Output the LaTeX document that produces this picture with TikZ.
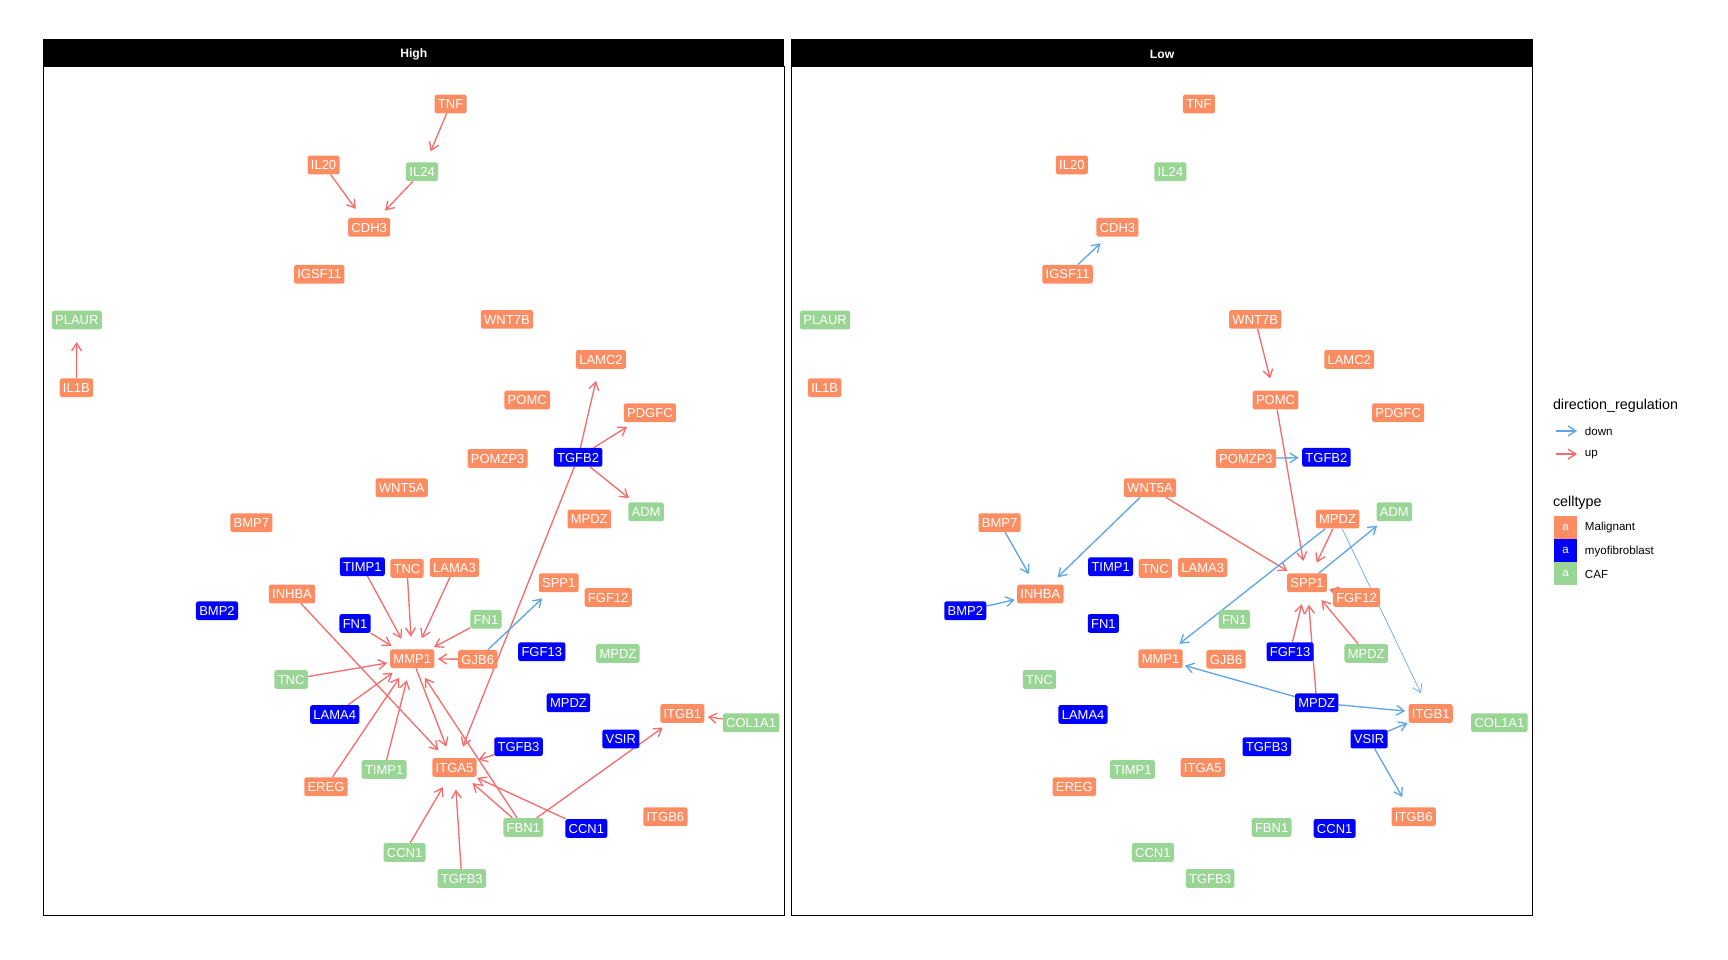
\documentclass[tikz,border=0pt]{standalone}
\usepackage{fontspec}
\setmainfont{Liberation Sans}
\usetikzlibrary{arrows.meta}
\pgfdeclarelayer{bg}
\pgfdeclarelayer{edges}
\pgfsetlayers{bg,edges,main}

\definecolor{malig}{HTML}{FC8D62}
\definecolor{myofib}{HTML}{0000FF}
\definecolor{caf}{HTML}{99D594}
\definecolor{upred}{HTML}{F46D6D}
\definecolor{downblue}{HTML}{5EA6E6}

\tikzset{
  gene/.style={rounded corners=2pt, text=white, inner xsep=3pt, inner ysep=0pt,
    minimum height=17pt, text height=8.5pt, text depth=0pt,
    font=\fontsize{11.8}{13}\selectfont},
  mal/.style={gene, fill=malig},
  myo/.style={gene, fill=myofib},
  cafn/.style={gene, fill=caf},
  link/.style={line width=1.2pt, -{Straight Barb[length=7pt,width=9pt]}},
  up/.style={link, draw=upred},
  down/.style={link, draw=downblue},
  strip/.style={text=white, font=\fontsize{11}{13}\selectfont\bfseries, inner sep=0pt},
  legtitle/.style={anchor=west, inner sep=0pt, font=\fontsize{13}{15}\selectfont},
  legtext/.style={anchor=west, inner sep=0pt, font=\fontsize{10.5}{12}\selectfont},
  keybox/.style={minimum size=21pt, inner sep=0pt, text=white, font=\fontsize{10.5}{12}\selectfont},
}

% edge ending on an elliptic cap around the target label
\newcommand\lnk[3]{%
  \pgfpointanchor{#3}{east}\pgfgetlastxy\lkEx\lkEy
  \pgfpointanchor{#3}{center}\pgfgetlastxy\lkCx\lkCy
  \pgfpointanchor{#2}{center}\pgfgetlastxy\lkSx\lkSy
  \pgfmathsetmacro\lkA{max(20,\lkEx-\lkCx+3)}%
  \pgfmathsetmacro\lkDx{\lkCx-\lkSx}%
  \pgfmathsetmacro\lkDy{\lkCy-\lkSy}%
  \pgfmathsetmacro\lkD{veclen(\lkDx,\lkDy)}%
  \pgfmathsetmacro\lkR{20*\lkA/sqrt((20*\lkDx/\lkD)^2+(\lkA*\lkDy/\lkD)^2)}%
  \draw[#1, shorten >=\lkR pt] (#2) -- (#3.center);}

% gene labels of one panel
\newcommand\genelayout[1]{%
  \node[mal]  (#1TNF)    at (408.9,94.4)  {TNF};
  \node[mal]  (#1IL20)   at (293.6,149.7) {IL20};
  \node[cafn] (#1IL24)   at (383,155.8)   {IL24};
  \node[mal]  (#1CDH3)   at (335,206.3)   {CDH3};
  \node[mal]  (#1IGSF11) at (289.7,248.9) {IGSF11};
  \node[cafn] (#1PLAUR)  at (69.7,290.4)  {PLAUR};
  \node[mal]  (#1WNT7B)  at (460,289.8)   {WNT7B};
  \node[mal]  (#1IL1B)   at (69.3,351.8)  {IL1B};
  \node[mal]  (#1LAMC2)  at (545.3,326.1) {LAMC2};
  \node[mal]  (#1POMC)   at (478.4,363)   {POMC};
  \node[mal]  (#1PDGFC)  at (589.7,374.5) {PDGFC};
  \node[mal]  (#1POMZP3) at (451.6,416)   {POMZP3};
  \node[myo]  (#1TGFB2)  at (524.6,415)   {TGFB2};
  \node[mal]  (#1WNT5A)  at (364.5,442.6) {WNT5A};
  \node[mal]  (#1MPDZm)  at (534.7,471)   {MPDZ};
  \node[cafn] (#1ADM)    at (586.2,464.4) {ADM};
  \node[mal]  (#1BMP7)   at (228.1,474.3) {BMP7};
  \node[myo]  (#1TIMP1y) at (328.8,514.2) {TIMP1};
  \node[mal]  (#1TNCm)   at (369.3,515.8) {TNC};
  \node[mal]  (#1LAMA3)  at (412.4,514.9) {LAMA3};
  \node[mal]  (#1SPP1)   at (507,528.8)   {SPP1};
  \node[mal]  (#1INHBA)  at (265,539)     {INHBA};
  \node[mal]  (#1FGF12)  at (551.9,542.1) {FGF12};
  \node[myo]  (#1BMP2)   at (196.9,554.2) {BMP2};
  \node[myo]  (#1FN1y)   at (322.2,565.7) {FN1};
  \node[cafn] (#1FN1c)   at (441,562)     {FN1};
  \node[mal]  (#1MMP1)   at (374.1,597.7) {MMP1};
  \node[mal]  (#1GJB6)   at (433.5,598.3) {GJB6};
  \node[myo]  (#1FGF13)  at (491.6,591.4) {FGF13};
  \node[cafn] (#1MPDZc)  at (560.7,592.9) {MPDZ};
  \node[cafn] (#1TNCc)   at (264.2,616.5) {TNC};
  \node[myo]  (#1MPDZy)  at (515.8,637.7) {MPDZ};
  \node[myo]  (#1LAMA4)  at (303.8,648.3) {LAMA4};
  \node[mal]  (#1ITGB1)  at (619.2,647.4) {ITGB1};
  \node[cafn] (#1COL1A1) at (681.6,655.8) {COL1A1};
  \node[myo]  (#1VSIR)   at (563.3,670.6) {VSIR};
  \node[myo]  (#1TGFB3y) at (470.5,677.6) {TGFB3};
  \node[cafn] (#1TIMP1c) at (348.6,698.2) {TIMP1};
  \node[mal]  (#1ITGA5)  at (412.4,696.4) {ITGA5};
  \node[mal]  (#1EREG)   at (295.8,713.9) {EREG};
  \node[mal]  (#1ITGB6)  at (603.8,741.1) {ITGB6};
  \node[cafn] (#1FBN1)   at (474.9,750.8) {FBN1};
  \node[myo]  (#1CCN1y)  at (532.1,751.7) {CCN1};
  \node[cafn] (#1CCN1c)  at (367.1,773.5) {CCN1};
  \node[cafn] (#1TGFB3c) at (419,797.1)   {TGFB3};
}

\begin{document}
\begin{tikzpicture}[x=1pt, y=-1pt]
\useasboundingbox (0,0) rectangle (1568,871);
\begin{pgfonlayer}{bg}
  \fill[white] (0,0) rectangle (1568,871);
\end{pgfonlayer}

% panels with their strips
\draw[line width=0.8pt] (39.4,59.9) rectangle (711.5,831);
\fill[black] (39.4,35.4) rectangle (711.5,59.9);
\node[strip] (stripHigh) at (375.5,49.2) {High};
\draw[line width=0.8pt] (718.2,59.9) rectangle (1390.8,831);
\fill[black] (718.2,35.4) rectangle (1390.8,59.9);
\node[strip] (stripLow) at (1054.5,49.2) {Low};

\genelayout{h}
\begin{scope}[xshift=679pt]
  \genelayout{l}
\end{scope}

\begin{pgfonlayer}{edges}
  % High
  \lnk{up}{hTNF}{hIL24}
  \lnk{up}{hIL20}{hCDH3}
  \lnk{up}{hIL24}{hCDH3}
  \lnk{up}{hIL1B}{hPLAUR}
  \lnk{up}{hTGFB2}{hLAMC2}
  \lnk{up}{hTGFB2}{hPDGFC}
  \lnk{up}{hTGFB2}{hADM}
  \lnk{up}{hTIMP1y}{hMMP1}
  \lnk{up}{hTNCm}{hMMP1}
  \lnk{up}{hLAMA3}{hMMP1}
  \lnk{up}{hFN1y}{hMMP1}
  \lnk{up}{hFN1c}{hMMP1}
  \lnk{up}{hGJB6}{hMMP1}
  \lnk{up}{hTNCc}{hMMP1}
  \lnk{up}{hLAMA4}{hMMP1}
  \lnk{up}{hEREG}{hMMP1}
  \lnk{up}{hTIMP1c}{hMMP1}
  \lnk{up}{hFBN1}{hMMP1}
  \lnk{up}{hINHBA}{hITGA5}
  \lnk{up}{hMMP1}{hITGA5}
  \lnk{up}{hTGFB2}{hITGA5}
  \lnk{up}{hTGFB3y}{hITGA5}
  \lnk{up}{hFBN1}{hITGA5}
  \lnk{up}{hCCN1y}{hITGA5}
  \lnk{up}{hCCN1c}{hITGA5}
  \lnk{up}{hTGFB3c}{hITGA5}
  \lnk{up}{hFBN1}{hITGB1}
  \lnk{up}{hCOL1A1}{hITGB1}
  \lnk{down}{hGJB6}{hSPP1}
  % Low
  \lnk{down}{lIGSF11}{lCDH3}
  \lnk{up}{lWNT7B}{lPOMC}
  \lnk{up}{lPOMC}{lSPP1}
  \lnk{down}{lPOMZP3}{lTGFB2}
  \lnk{down}{lWNT5A}{lINHBA}
  \lnk{up}{lWNT5A}{lSPP1}
  \lnk{down}{lBMP7}{lINHBA}
  \lnk{down}{lBMP2}{lINHBA}
  \lnk{up}{lMPDZm}{lSPP1}
  \lnk{down}{lMPDZm}{lMMP1}
  \lnk{down, line width=0.6pt}{lMPDZm}{lITGB1}
  \lnk{down}{lSPP1}{lADM}
  \lnk{up}{lFGF12}{lSPP1}
  \lnk{up}{lFGF13}{lSPP1}
  \lnk{up}{lMPDZy}{lSPP1}
  \lnk{up}{lMPDZc}{lSPP1}
  \lnk{down}{lMPDZy}{lMMP1}
  \lnk{down}{lMPDZy}{lITGB1}
  \lnk{down}{lVSIR}{lITGB1}
  \lnk{down}{lVSIR}{lITGB6}
\end{pgfonlayer}

% legend
\node[legtitle] (dirtitle) at (1409,368) {direction\_regulation};
\coordinate (kd0) at (1412,391);
\coordinate (kd1) at (1431,391);
\draw[down] (kd0) -- (kd1);
\node[legtext] (kdlab) at (1438,391.5) {down};
\coordinate (ku0) at (1412,412);
\coordinate (ku1) at (1431,412);
\draw[up] (ku0) -- (ku1);
\node[legtext] (kulab) at (1438,412.5) {up};

\node[legtitle] (celltitle) at (1409,456) {celltype};
\node[keybox, fill=malig]  (kmal) at (1420.5,478.5) {a};
\node[legtext] (kmallab) at (1438,479) {Malignant};
\node[keybox, fill=myofib] (kmyo) at (1420.5,499.5) {a};
\node[legtext] (kmyolab) at (1438,500) {myofibroblast};
\node[keybox, fill=caf]    (kcaf) at (1420.5,520.5) {a};
\node[legtext] (kcaflab) at (1438,521) {CAF};
\end{tikzpicture}
\end{document}
